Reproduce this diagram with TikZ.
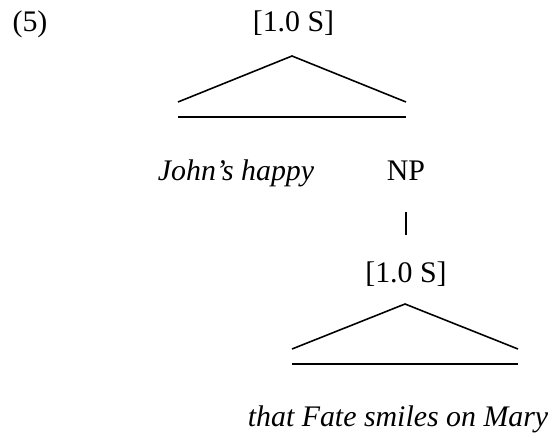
\documentclass[tikz,border=0pt]{standalone}
\usepackage{fontspec}
\setmainfont{Liberation Serif}
\usepackage{tikz}
\usetikzlibrary{positioning}

\begin{document}
\begin{tikzpicture}[
    % gaya untuk label dan garis pohon
    lbl/.style={inner sep=0pt, anchor=base, font=\fontsize{17}{20}\selectfont},
    yield/.style={lbl, font=\fontsize{17}{20}\selectfont\itshape},
    roof/.style={line width=0.9pt, line join=miter},
    branch/.style={line width=0.8pt}
]
% kotak batas gambar
\useasboundingbox (0,0) rectangle (11.06,8.74);

% nomor contoh
\node (num) [lbl] at (0.60,8.10) {(5)};

% S atas dan atapnya
\node (s1) [lbl] at (5.87,8.10) {[1.0 S]};
\draw [roof] (3.56,6.70) -- (5.84,7.62) -- (8.12,6.70);
\draw [roof] (3.56,6.40) -- (8.12,6.40);

% isi S atas
\node (john) [yield] at (4.72,5.14) {John’s happy};
\node (np) [lbl] at (8.12,5.14) {NP};

% S bawah di bawah NP
\node (s2) [lbl] at (8.12,3.10) {[1.0 S]};
\draw [branch, shorten <=0.64cm, shorten >=0.94cm] (np.base) -- (s2.base);
\draw [roof] (5.84,1.76) -- (8.10,2.66) -- (10.36,1.76);
\draw [roof] (5.84,1.46) -- (10.36,1.46);

% isi S bawah
\node (fate) [yield] at (7.96,0.22) {that Fate smiles on Mary};

\end{tikzpicture}
\end{document}
